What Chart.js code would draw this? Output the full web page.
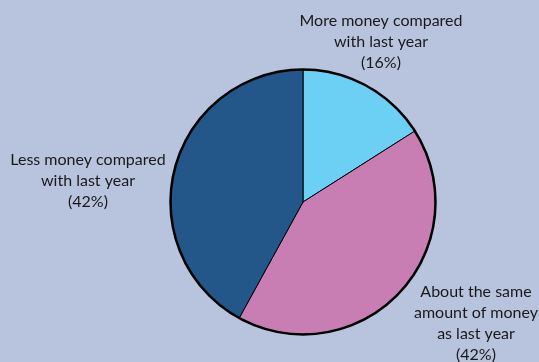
<!DOCTYPE html>
<html lang="en">
<head>
    <meta charset="UTF-8">
    <title>Money compared with last year</title>
    <script src="https://cdn.jsdelivr.net/npm/chart.js"></script>
    <style>
        html, body { margin: 0; padding: 0; background: #b8c3dd; }
        #wrap { width: 539px; height: 362px; position: relative; }
    </style>
</head>
<body>
    <div id="wrap"><canvas id="pieChart"></canvas></div>

    <script>
        // data
        const categories = ['More money compared with last year', 'About the same amount of money as last year', 'Less money compared with last year'];
        const shares = [16, 42, 42];
        const sliceColors = ['#6bd0f4', '#c87db3', '#235789'];

        // label text, broken into lines as in the original, plus where each block sits
        const labelLines = [
            ['More money compared', 'with last year', '(16%)'],
            ['About the same', 'amount of money', 'as last year', '(42%)'],
            ['Less money compared', 'with last year', '(42%)']
        ];
        const labelAnchors = [[381, 21], [476, 292], [88, 160]];

        const labelPlugin = {
            id: 'labels',
            afterDatasetsDraw(chart) {
                const ctx = chart.ctx;
                const arc = chart.getDatasetMeta(0).data[0];
                // thicker outer ring
                ctx.save();
                ctx.beginPath();
                ctx.arc(arc.x, arc.y, arc.outerRadius, 0, Math.PI * 2);
                ctx.lineWidth = 2.5;
                ctx.strokeStyle = '#000';
                ctx.stroke();

                ctx.fillStyle = '#1a1a1a';
                ctx.font = '16px Lato';
                ctx.textAlign = 'center';
                ctx.textBaseline = 'middle';
                labelLines.forEach((lines, i) => {
                    const [x, y] = labelAnchors[i];
                    lines.forEach((t, j) => ctx.fillText(t, x, y + j * 21));
                });
                ctx.restore();
            }
        };

        new Chart(document.getElementById('pieChart'), {
            type: 'pie',
            data: {
                labels: categories,
                datasets: [{
                    data: shares,
                    backgroundColor: sliceColors,
                    borderColor: '#000',
                    borderWidth: 1
                }]
            },
            options: {
                responsive: true,
                maintainAspectRatio: false,
                animation: false,
                layout: { padding: { left: 170, right: 103, top: 69, bottom: 27 } },
                plugins: {
                    legend: { display: false },
                    tooltip: { enabled: false }
                }
            },
            plugins: [labelPlugin]
        });
    </script>
</body>
</html>
